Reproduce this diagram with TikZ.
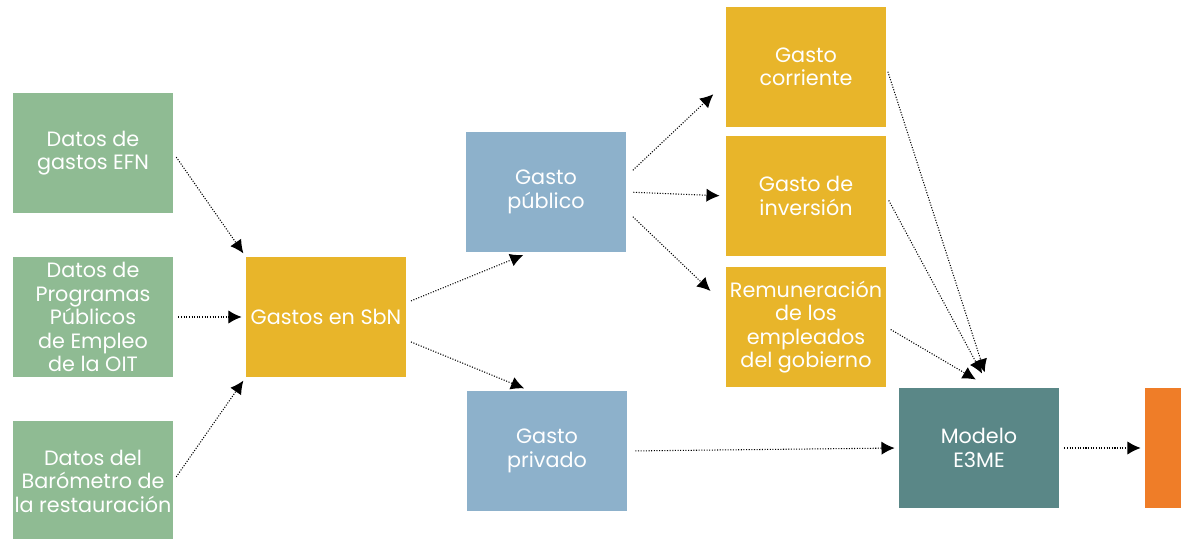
\documentclass[tikz,border=0pt]{standalone}
\usepackage{fontspec}
\setmainfont{Poppins}
\usetikzlibrary{positioning, shapes, arrows.meta}
\definecolor{verde}{HTML}{8FBB93}
\definecolor{amarillo}{HTML}{E8B52A}
\definecolor{azul}{HTML}{8DB1CB}
\definecolor{petroleo}{HTML}{5A8787}
\definecolor{naranja}{HTML}{EF7D28}
\tikzset{font=\fontsize{11.8}{13.4}\selectfont}
\tikzstyle{block}  = [rectangle, minimum width=3.2cm, minimum height=2.4cm, inner sep=0.5pt, align=center, text=white]
\tikzstyle{fuente} = [block, fill=verde]
\tikzstyle{gasto}  = [block, fill=amarillo]
\tikzstyle{sector} = [block, fill=azul]
\tikzstyle{modelo} = [block, fill=petroleo]
\tikzstyle{salida} = [rectangle, minimum width=0.8cm, minimum height=2.4cm, fill=naranja]
\tikzstyle{flujo}  = [->, line width=0.6pt, dash pattern=on 0.6pt off 0.9pt, shorten <=0.1cm, shorten >=0.08cm]

\begin{document}
\begin{tikzpicture}[node distance=1cm, >={Latex[length=7.5pt,width=7.5pt]}]
	\useasboundingbox (-1.86,-4.44) rectangle (21.76,6.34);

	\node [fuente] (oit) {Datos de\\Programas\\Públicos\\de Empleo\\de la OIT};
	\node [fuente, above of=oit, node distance=3.28cm] (efn) {Datos de\\gastos EFN};
	\node [fuente, below of=oit, node distance=3.28cm] (bar) {Datos del\\Barómetro de\\la restauración};
	\node [gasto, right of=oit, node distance=4.66cm] (sbn) {Gastos en SbN};
	\node [sector, right of=sbn, node distance=4.4cm, yshift=2.5cm] (pub) {Gasto\\público};
	\node [sector, right of=sbn, node distance=4.42cm, yshift=-2.68cm] (priv) {Gasto\\privado};
	\node [gasto, right of=pub, node distance=5.2cm, yshift=-0.08cm] (inv) {Gasto de\\inversión};
	\node [gasto, above of=inv, node distance=2.58cm] (corr) {Gasto\\corriente};
	\node [gasto, below of=inv, node distance=2.62cm] (rem) {Remuneración\\de los\\empleados\\del gobierno};
	\node [modelo, right of=priv, node distance=8.64cm, yshift=0.06cm] (mod) {Modelo\\E3ME};
	\node [salida, right of=mod, node distance=3.72cm] (out) {};

	\draw [flujo] (efn.east) -- (sbn.north west);
	\draw [flujo] (oit.east) -- (sbn.west);
	\draw [flujo] (bar.east) -- (sbn.south west);
	\draw [flujo, shorten >=0.14cm] (sbn.10) -- (pub.-105);
	\draw [flujo, shorten >=0.12cm] (sbn.-16) -- (priv.106);
	\draw [flujo, shorten <=0.18cm, shorten >=0.34cm] (pub.11) -- (corr.-169);
	\draw [flujo, shorten <=0.14cm, shorten >=0.12cm] (pub.east) -- (inv.west);
	\draw [flujo, shorten <=0.18cm, shorten >=0.42cm] (pub.-13) -- (rem.165);
	\draw [flujo, shorten >=0.32cm] (corr.east) -- (mod.80);
	\draw [flujo, shorten >=0.32cm] (inv.east) -- (mod.80);
	\draw [flujo, shorten >=0.32cm] (rem.east) -- (mod.80);
	\draw [flujo, shorten <=0.16cm] (priv.east) -- (mod.west);
	\draw [flujo] (mod.east) -- (out.west);
\end{tikzpicture}
\end{document}
